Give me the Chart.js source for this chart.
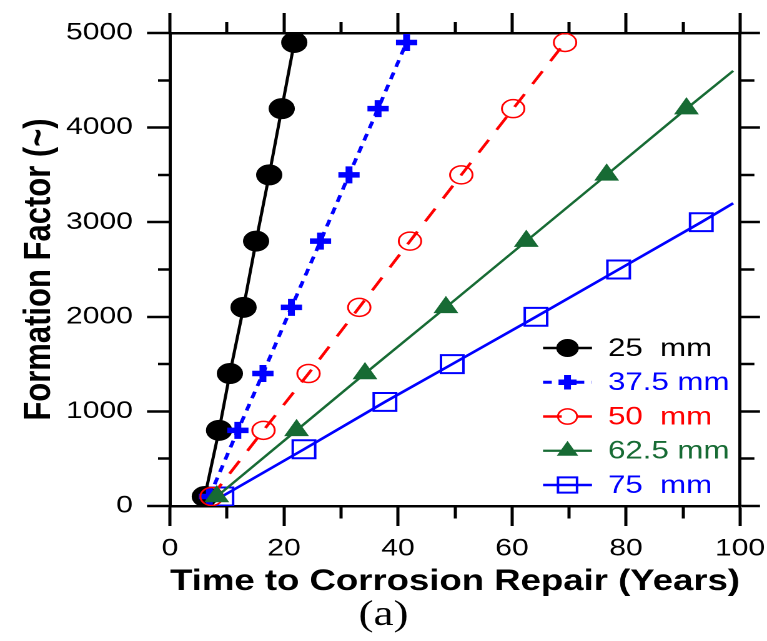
<!DOCTYPE html>
<html>
<head>
<meta charset="utf-8">
<script src="https://cdn.jsdelivr.net/npm/chart.js@4/dist/chart.umd.min.js"></script>
<style>
html,body{margin:0;padding:0;background:#fff;overflow:hidden;width:767px;height:641px;}
#wrap{position:absolute;left:0;top:0;width:614px;height:641px;transform:scaleX(1.2492);transform-origin:0 0;}
</style>
</head>
<body>
<div id="wrap"><canvas id="c"></canvas></div>
<script>
// ---- data ----
const seriesLabels = ['25  mm', '37.5 mm', '50  mm', '62.5 mm', '75  mm'];
const seriesColors = ['#000000', '#0000ff', '#ff0000', '#176b34', '#0000ff'];

const t25  = [6.1, 8.6, 10.5, 12.9, 15.1, 17.4, 19.6, 21.8];
const ff25 = [100, 800, 1400, 2100, 2800, 3500, 4200, 4900];

const t375  = [6.9, 11.9, 16.3, 21.3, 26.4, 31.4, 36.5, 41.5];
const ff375 = [100, 800, 1400, 2100, 2800, 3500, 4200, 4900];

const t50  = [7.3, 16.4, 24.3, 33.2, 42.1, 51.1, 60.2, 69.3];
const ff50 = [100, 800, 1400, 2100, 2800, 3500, 4200, 4900];

const t625  = [8.2, 22.2, 34.2, 48.4, 62.5, 76.6, 90.6];
const ff625 = [100, 800, 1400, 2100, 2800, 3500, 4200];
const t625FitEnd = 98.8, ff625FitEnd = 4600;   // end of the drawn trend line

const t75  = [9.1, 23.5, 37.7, 49.5, 64.2, 78.7, 93.2];
const ff75 = [100, 600, 1100, 1500, 2000, 2500, 3000];
const t75FitEnd = 98.8, ff75FitEnd = 3200;     // end of the drawn trend line

const xTickLabels = [0, 20, 40, 60, 80, 100];
const yTickLabels = [0, 1000, 2000, 3000, 4000, 5000];

// ---- helpers ----
function pts(xs, ys) { return xs.map((x, i) => ({x: x, y: ys[i]})); }
function radii(n, r, extra) { const a = new Array(n).fill(r); for (let i = 0; i < extra; i++) a.push(0); return a; }

Chart.defaults.font.family = 'Liberation Sans, Arial, sans-serif';
Chart.defaults.color = '#000';

const datasets = [
  {label: seriesLabels[0], data: pts(t25, ff25), borderColor: seriesColors[0], borderWidth: 2.5,
   pointStyle: 'circle', pointRadius: 10, pointBorderWidth: 1, pointBackgroundColor: seriesColors[0], pointBorderColor: seriesColors[0], order: 5},
  {label: seriesLabels[1], data: pts(t375, ff375), borderColor: seriesColors[1], borderWidth: 3, borderDash: [7, 6],
   pointStyle: 'cross', pointRadius: 8.5, pointBorderWidth: 5.5, pointBackgroundColor: seriesColors[1], pointBorderColor: seriesColors[1], order: 4},
  {label: seriesLabels[2], data: pts(t50, ff50), borderColor: seriesColors[2], borderWidth: 2.5, borderDash: [15, 12],
   pointStyle: 'circle', pointRadius: 9, pointBorderWidth: 1.5, pointBackgroundColor: 'rgba(0,0,0,0)', pointBorderColor: seriesColors[2], order: 2},
  {label: seriesLabels[3], data: pts(t625.concat([t625FitEnd]), ff625.concat([ff625FitEnd])), borderColor: seriesColors[3], borderWidth: 2.2,
   pointStyle: 'triangle', pointRadius: radii(t625.length, 10.5, 1), pointBorderWidth: 1, pointBackgroundColor: seriesColors[3], pointBorderColor: seriesColors[3], order: 1},
  {label: seriesLabels[4], data: pts(t75.concat([t75FitEnd]), ff75.concat([ff75FitEnd])), borderColor: seriesColors[4], borderWidth: 2.5,
   pointStyle: 'rect', pointRadius: radii(t75.length, 12.7, 1), pointBorderWidth: 2, pointBackgroundColor: 'rgba(0,0,0,0)', pointBorderColor: seriesColors[4], order: 3}
];
datasets.forEach(d => { d.showLine = true; d.tension = 0; d.fill = false; d.pointHoverRadius = d.pointRadius; });

function drawMarker(ctx, style, x, y, r, bw, fill, stroke) {
  ctx.save();
  ctx.setLineDash([]);
  ctx.lineWidth = bw; ctx.strokeStyle = stroke; ctx.fillStyle = fill;
  ctx.beginPath();
  if (style === 'circle') {
    ctx.arc(x, y, r, 0, Math.PI * 2);
  } else if (style === 'cross') {
    ctx.moveTo(x - r, y); ctx.lineTo(x + r, y);
    ctx.moveTo(x, y - r); ctx.lineTo(x, y + r);
  } else if (style === 'triangle') {
    let a = 0;
    ctx.moveTo(x + Math.sin(a) * r, y - Math.cos(a) * r);
    a += 2 * Math.PI / 3; ctx.lineTo(x + Math.sin(a) * r, y - Math.cos(a) * r);
    a += 2 * Math.PI / 3; ctx.lineTo(x + Math.sin(a) * r, y - Math.cos(a) * r);
    ctx.closePath();
  } else if (style === 'rect') {
    const s = r * Math.SQRT1_2;
    ctx.rect(x - s, y - s, 2 * s, 2 * s);
  }
  if (style !== 'cross') ctx.fill();
  if (bw > 0) ctx.stroke();
  ctx.restore();
}

const legendPlugin = {
  id: 'lineMarkerLegend',
  afterDatasetsDraw(chart) {
    const ctx = chart.ctx, ca = chart.chartArea;
    const x0 = ca.right - 157.7, x1 = ca.right - 118.5, xm = (x0 + x1) / 2, xt = ca.right - 105.7;
    const y0 = ca.bottom - 158, dy = 34.25;
    chart.data.datasets.forEach((d, i) => {
      const y = y0 + i * dy;
      ctx.save();
      ctx.strokeStyle = d.borderColor; ctx.lineWidth = d.borderWidth;
      ctx.setLineDash(d.borderDash || []);
      ctx.beginPath(); ctx.moveTo(x0, y); ctx.lineTo(x1, y); ctx.stroke();
      ctx.restore();
      const r = Array.isArray(d.pointRadius) ? d.pointRadius[0] : d.pointRadius;
      drawMarker(ctx, d.pointStyle, xm, y, r * 0.85, d.pointBorderWidth, d.pointBackgroundColor, d.pointBorderColor);
      ctx.save();
      ctx.fillStyle = d.borderColor;
      ctx.font = '25px "Liberation Sans", Arial, sans-serif';
      ctx.textAlign = 'left'; ctx.textBaseline = 'middle';
      ctx.fillText(d.label, xt, y + 1);
      ctx.restore();
    });
  }
};

const axisBorder = {display: true, color: '#000', width: 2.5};
const tickFont = {family: 'Liberation Sans, Arial, sans-serif', size: 24, lineHeight: 1.2};

new Chart(document.getElementById('c'), {
  type: 'scatter',
  data: {datasets: datasets},
  plugins: [legendPlugin],
  options: {
    responsive: true,
    maintainAspectRatio: false,
    devicePixelRatio: 2,
    animation: false,
    events: [],
    layout: {padding: 0},
    plugins: {
      legend: {display: false},
      tooltip: {enabled: false},
      title: {display: true, position: 'bottom', text: '(a)', color: '#000',
              font: {family: 'Liberation Serif, Times New Roman, serif', size: 36, weight: 'normal', lineHeight: 1},
              padding: {top: 1, bottom: 7.5}}
    },
    scales: {
      x: {
        type: 'linear', position: 'bottom', min: 0, max: 100,
        afterFit: s => { s.height = 90.5; },
        border: axisBorder,
        grid: {display: true, drawOnChartArea: false, drawTicks: true, tickLength: 20, tickWidth: 2.5, tickColor: '#000',
               tickBorderDash: c => (c.tick && c.tick.value % 20 !== 0) ? [11, 100] : []},
        ticks: {stepSize: 10, autoSkip: false, maxRotation: 0, minRotation: 0, padding: 0, color: '#000',
                font: {family: 'Liberation Sans, Arial, sans-serif', size: 24, lineHeight: 1.9},
                callback: v => xTickLabels.includes(v) ? String(v) : ''},
        title: {display: true, text: 'Time to Corrosion Repair (Years)', color: '#000',
                font: {family: 'Liberation Sans, Arial, sans-serif', size: 30, weight: 'bold', lineHeight: 1},
                padding: {top: 0, bottom: 0}}
      },
      x2: {
        type: 'linear', position: 'top', min: 0, max: 100,
        afterFit: s => { s.height = 33; },
        border: axisBorder,
        grid: {display: true, drawOnChartArea: false, drawTicks: true, tickLength: 20, tickWidth: 2.5, tickColor: '#000',
               tickBorderDash: c => (c.tick && c.tick.value % 20 !== 0) ? [10, 9] : [],
               tickBorderDashOffset: c => (c.tick && c.tick.value % 20 !== 0) ? 10 : 0},
        ticks: {display: false, stepSize: 10, autoSkip: false, maxRotation: 0, padding: 0}
      },
      y: {
        type: 'linear', position: 'left', min: 0, max: 5000,
        afterFit: s => { s.width = 136.1; },
        border: axisBorder,
        grid: {display: true, drawOnChartArea: false, drawTicks: true, tickLength: 18.4, tickWidth: 2.5, tickColor: '#000',
               tickBorderDash: c => (c.tick && c.tick.value % 1000 !== 0) ? [9.6, 8.8] : [],
               tickBorderDashOffset: c => (c.tick && c.tick.value % 1000 !== 0) ? 9.6 : 0},
        ticks: {stepSize: 500, autoSkip: false, padding: 11.4, color: '#000', font: tickFont,
                callback: v => yTickLabels.includes(v) ? String(v) : ''},
        title: {display: true, text: 'Formation Factor (~)', color: '#000',
                font: {family: 'Liberation Sans, Arial, sans-serif', size: 31, weight: 'bold', lineHeight: 1},
                padding: {top: 16, bottom: 0}}
      },
      y2: {
        type: 'linear', position: 'right', min: 0, max: 5000,
        afterFit: s => { s.width = 21.6; },
        border: axisBorder,
        grid: {display: true, drawOnChartArea: false, drawTicks: true, tickLength: 16, tickWidth: 2.5, tickColor: '#000',
               tickBorderDash: c => (c.tick && c.tick.value % 1000 !== 0) ? [10.4, 100] : []},
        ticks: {display: false, stepSize: 500, autoSkip: false, padding: 0}
      }
    }
  }
});
</script>
</body>
</html>
